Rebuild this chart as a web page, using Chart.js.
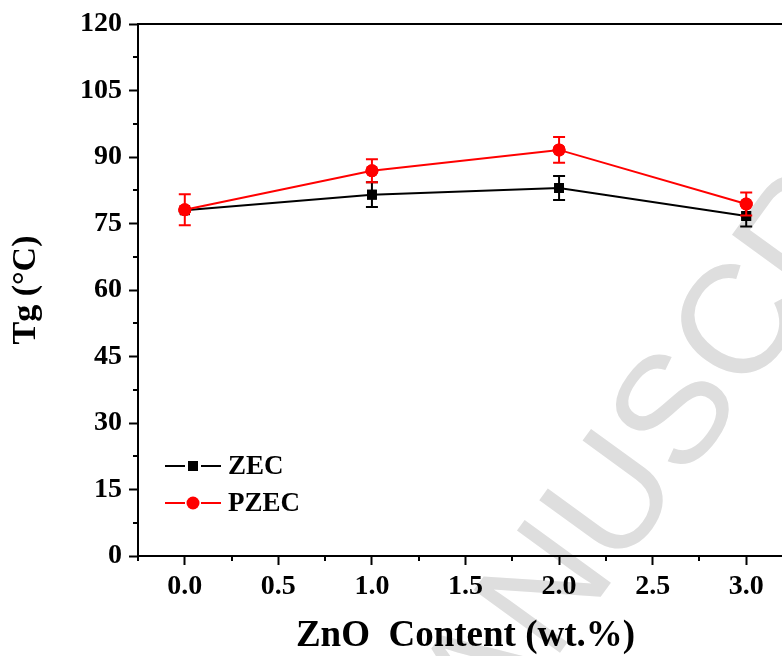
<!DOCTYPE html>
<html><head><meta charset="utf-8">
<script src="https://cdn.jsdelivr.net/npm/chart.js@4/dist/chart.umd.min.js"></script>
<style>
html,body{margin:0;padding:0;background:#fff;overflow:hidden;width:782px;height:656px}
#wrap{position:absolute;left:0;top:0;width:810px;height:656px}
</style>
</head><body><div id="wrap"><canvas id="c"></canvas></div>
<script>
// ---- data ----
const seriesNames = ['ZEC', 'PZEC'];
const znoContent = [0.0, 1.0, 2.0, 3.0];
const zecTg = [78.0, 81.5, 83.0, 76.7];
const zecErr = [0.3, 2.8, 2.7, 2.4];
const pzecTg = [78.1, 86.9, 91.6, 79.4];
const pzecErr = [3.5, 2.6, 2.9, 2.6];
const xTicks = [0, 0.5, 1.0, 1.5, 2.0, 2.5, 3.0];
const yTicks = [0, 15, 30, 45, 60, 75, 90, 105, 120];
const xTitle = 'ZnO  Content (wt.%)';
const yTitle = 'Tg (°C)';
const watermark = 'ACCEPTED MANUSCRIPT';

const RED = 'rgb(255,0,0)';
const BLACK = '#000';
const SERIF = '"Liberation Serif", "Times New Roman", serif';

const toPts = (ys) => znoContent.map((x, i) => ({x: x, y: ys[i]}));

const watermarkPlugin = {
  id: 'watermark',
  beforeDraw(chart) {
    const ctx = chart.ctx;
    ctx.save();
    ctx.font = '155px "Liberation Sans", Arial, sans-serif';
    ctx.fillStyle = '#dedede';
    const ang = -54 * Math.PI / 180;
    const pre = 'ACCEPTED MANU';
    const d = ctx.measureText(pre).width + ctx.measureText('S').width / 2;
    const sx = 680, sy = 415;
    const ox = sx - d * Math.cos(ang), oy = sy - d * Math.sin(ang);
    ctx.translate(ox, oy);
    ctx.rotate(ang);
    ctx.textBaseline = 'middle';
    ctx.textAlign = 'left';
    ctx.fillText(watermark, 0, 0);
    ctx.restore();
  }
};

const errorPlugin = {
  id: 'errbars',
  afterDatasetDraw(chart, args) {
    const ds = chart.data.datasets[args.index];
    const errs = ds.errors;
    if (!errs) return;
    const xs = chart.scales.x, ys = chart.scales.y, ctx = chart.ctx;
    ctx.save();
    ctx.strokeStyle = ds.borderColor;
    ctx.lineWidth = 2;
    ds.data.forEach((p, i) => {
      const px = xs.getPixelForValue(p.x);
      const top = ys.getPixelForValue(p.y + errs[i]);
      const bot = ys.getPixelForValue(p.y - errs[i]);
      ctx.beginPath();
      ctx.moveTo(px, top); ctx.lineTo(px, bot);
      ctx.moveTo(px - 6, top); ctx.lineTo(px + 6, top);
      ctx.moveTo(px - 6, bot); ctx.lineTo(px + 6, bot);
      ctx.stroke();
    });
    const meta = chart.getDatasetMeta(args.index);
    meta.data.forEach(el => el.draw(ctx));
    ctx.restore();
  }
};

const framePlugin = {
  id: 'frame',
  afterDraw(chart) {
    const ctx = chart.ctx, a = chart.chartArea;
    const xs = chart.scales.x, ys = chart.scales.y;
    ctx.save();
    ctx.strokeStyle = BLACK;
    ctx.lineWidth = 2;
    ctx.beginPath();
    ctx.moveTo(a.left - 1, a.top); ctx.lineTo(a.right + 1, a.top);
    ctx.moveTo(a.right, a.top); ctx.lineTo(a.right, a.bottom);
    for (let i = 0; i < yTicks.length - 1; i++) {
      const py = Math.round(ys.getPixelForValue((yTicks[i] + yTicks[i + 1]) / 2));
      ctx.moveTo(a.left, py); ctx.lineTo(a.left - 5, py);
    }
    const xm = [xs.min];
    for (let i = 0; i < xTicks.length - 1; i++) xm.push((xTicks[i] + xTicks[i + 1]) / 2);
    xm.push(xs.max);
    xm.forEach(v => {
      const px = Math.round(xs.getPixelForValue(v));
      ctx.moveTo(px, a.bottom); ctx.lineTo(px, a.bottom + 5);
    });
    ctx.stroke();
    ctx.restore();
  }
};

const legendPlugin = {
  id: 'customLegend',
  afterDraw(chart) {
    const ctx = chart.ctx;
    const order = [1, 0];
    const rows = [466, 503];
    ctx.save();
    order.forEach((di, r) => {
      const ds = chart.data.datasets[di];
      const y = rows[r];
      ctx.strokeStyle = ds.borderColor;
      ctx.fillStyle = ds.borderColor;
      ctx.lineWidth = 2;
      ctx.beginPath();
      ctx.moveTo(165, y); ctx.lineTo(185, y);
      ctx.moveTo(201, y); ctx.lineTo(221, y);
      ctx.stroke();
      if (ds.pointStyle === 'rect') {
        ctx.fillRect(193 - 5, y - 5, 10, 10);
      } else {
        ctx.beginPath(); ctx.arc(193, y, 6.5, 0, Math.PI * 2); ctx.fill();
      }
      ctx.fillStyle = BLACK;
      ctx.font = 'bold 27px ' + SERIF;
      ctx.textBaseline = 'middle';
      ctx.textAlign = 'left';
      ctx.fillText(ds.label, 228, y + 1);
    });
    ctx.restore();
  }
};

new Chart(document.getElementById('c'), {
  type: 'line',
  data: {
    datasets: [
      {
        label: seriesNames[1], data: toPts(pzecTg), errors: pzecErr,
        borderColor: RED, backgroundColor: RED, borderWidth: 2,
        pointStyle: 'circle', pointRadius: 6.5, pointBorderWidth: 0,
        pointBackgroundColor: RED, fill: false, tension: 0
      },
      {
        label: seriesNames[0], data: toPts(zecTg), errors: zecErr,
        borderColor: BLACK, backgroundColor: BLACK, borderWidth: 2,
        pointStyle: 'rect', pointRadius: 7, pointBorderWidth: 0,
        pointBackgroundColor: BLACK, fill: false, tension: 0
      }
    ]
  },
  options: {
    responsive: true,
    maintainAspectRatio: false,
    animation: false,
    events: [],
    layout: {padding: {left: 0, top: 24, right: 17, bottom: 0}},
    plugins: {legend: {display: false}, tooltip: {enabled: false}},
    scales: {
      x: {
        type: 'linear', min: -0.25, max: 3.25,
        afterBuildTicks: s => { s.ticks = xTicks.map(v => ({value: v})); },
        afterFit: s => { s.height = 100; },
        grid: {drawOnChartArea: false, drawTicks: true, tickLength: 9, tickWidth: 2, tickColor: BLACK},
        border: {display: true, color: BLACK, width: 2},
        ticks: {
          color: BLACK, padding: 5, maxRotation: 0, autoSkip: false,
          font: {family: SERIF, size: 28, weight: 'bold'},
          callback: v => Number(v).toFixed(1)
        },
        title: {
          display: true, text: xTitle, color: BLACK,
          font: {family: SERIF, size: 37, weight: 'bold', lineHeight: 1},
          padding: {top: 0, bottom: 1}
        }
      },
      y: {
        type: 'linear', min: 0, max: 120,
        afterBuildTicks: s => { s.ticks = yTicks.map(v => ({value: v})); },
        afterFit: s => { s.width = 138; },
        grid: {drawOnChartArea: false, drawTicks: true, tickLength: 9, tickWidth: 2, tickColor: BLACK},
        border: {display: true, color: BLACK, width: 2},
        ticks: {
          color: BLACK, padding: 7, autoSkip: false,
          font: {family: SERIF, size: 28, weight: 'bold'},
          callback: v => String(v)
        },
        title: {
          display: true, text: yTitle, color: BLACK,
          font: {family: SERIF, size: 34, weight: 'bold', lineHeight: 1},
          padding: {top: 9, bottom: 0}
        }
      }
    }
  },
  plugins: [watermarkPlugin, errorPlugin, framePlugin, legendPlugin]
});
</script>
</body></html>
